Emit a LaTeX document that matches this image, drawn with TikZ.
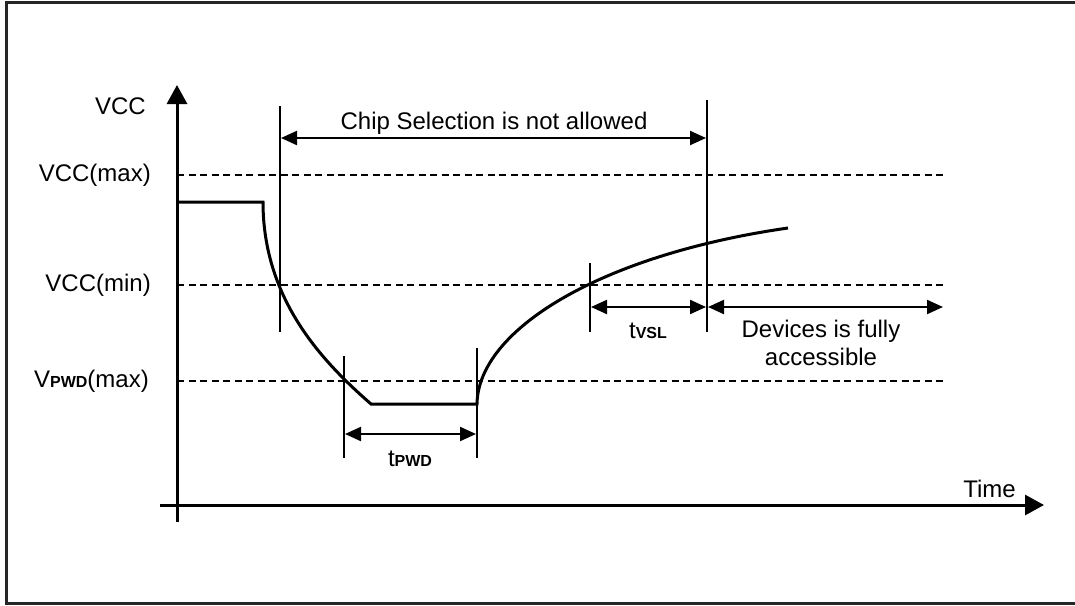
\documentclass[tikz,border=0pt]{standalone}
\usepackage{fontspec}
\setmainfont{Liberation Sans}
\usetikzlibrary{arrows.meta}
\newcommand{\subsc}[1]{{\fontsize{16}{18}\selectfont\bfseries #1}}
\tikzset{
  lbl/.style={font=\fontsize{24}{28}\selectfont, inner sep=0pt},
  axis/.style={line width=3pt, -{Triangle[length=19pt,width=20pt]}},
  sig/.style={line width=3pt, line join=miter},
  guide/.style={line width=1.5pt, dash pattern=on 7pt off 4.5pt},
  mark line/.style={line width=1.5pt},
  dim/.style={line width=2.2pt, {Triangle[length=16pt,width=14pt]}-{Triangle[length=16pt,width=14pt]}},
  frameline/.style={line width=3pt, draw=black!85}
}
\begin{document}
\begin{tikzpicture}[x=1pt,y=-1pt]
\useasboundingbox (0,0) rectangle (1075,605);
% frame
\draw[frameline] (1080,2) -- (6,2) -- (6,603) -- (1080,603);

% axes
\coordinate (yb) at (177,522);
\coordinate (yt) at (177,85);
\coordinate (xl) at (160,505);
\coordinate (xr) at (1044,505);
\draw[axis] (yb) -- (yt);
\draw[axis] (xl) -- (xr);
\node[lbl, anchor=east] (vcc) at (146,106) {VCC};
\node[lbl, anchor=south east] (time) at (1016,498) {Time};

% guide lines
\coordinate (gmax0) at (177,175); \coordinate (gmax1) at (945,175);
\coordinate (gmin0) at (177,285); \coordinate (gmin1) at (945,285);
\coordinate (gpwd0) at (177,381); \coordinate (gpwd1) at (945,381);
\draw[guide] (gmax0) -- (gmax1);
\draw[guide] (gmin0) -- (gmin1);
\draw[guide] (gpwd0) -- (gpwd1);
\node[lbl, anchor=east] (lmax) at (151,175) {VCC(max)};
\node[lbl, anchor=east] (lmin) at (151,285) {VCC(min)};
\node[lbl, anchor=east] (lpwd) at (149,381) {V\subsc{PWD}(max)};

% signal
\draw[sig] (177,202) -- (263,202)
  .. controls (263,300) and (323,362) .. (371,404)
  -- (477,404)
  .. controls (478,330) and (600,255) .. (788,228);

% marker lines
\coordinate (m1t) at (280,106); \coordinate (m1b) at (280,332);
\coordinate (m2t) at (707,100); \coordinate (m2b) at (707,332);
\coordinate (m3t) at (590,263); \coordinate (m3b) at (590,332);
\coordinate (m4t) at (344,356); \coordinate (m4b) at (344,458);
\coordinate (m5t) at (477,348); \coordinate (m5b) at (477,458);
\draw[mark line] (m1t) -- (m1b);
\draw[mark line] (m2t) -- (m2b);
\draw[mark line] (m3t) -- (m3b);
\draw[mark line] (m4t) -- (m4b);
\draw[mark line] (m5t) -- (m5b);

% dimension arrows
\coordinate (cs0) at (281,138); \coordinate (cs1) at (706,138);
\draw[dim] (cs0) -- (cs1);
\node[lbl] (cstext) at (494,123) {Chip Selection is not allowed};

\coordinate (vs0) at (591,307); \coordinate (vs1) at (706,307);
\draw[dim] (vs0) -- (vs1);
\node[lbl] (vstext) at (648,331) {t\subsc{VSL}};

\coordinate (da0) at (708,307); \coordinate (da1) at (943,307);
\draw[dim] (da0) -- (da1);
\node[lbl, align=center] (datext) at (821,343) {Devices is fully\\accessible};

\coordinate (pw0) at (345,434); \coordinate (pw1) at (476,434);
\draw[dim] (pw0) -- (pw1);
\node[lbl] (pwtext) at (410,459) {t\subsc{PWD}};
\end{tikzpicture}
\end{document}
